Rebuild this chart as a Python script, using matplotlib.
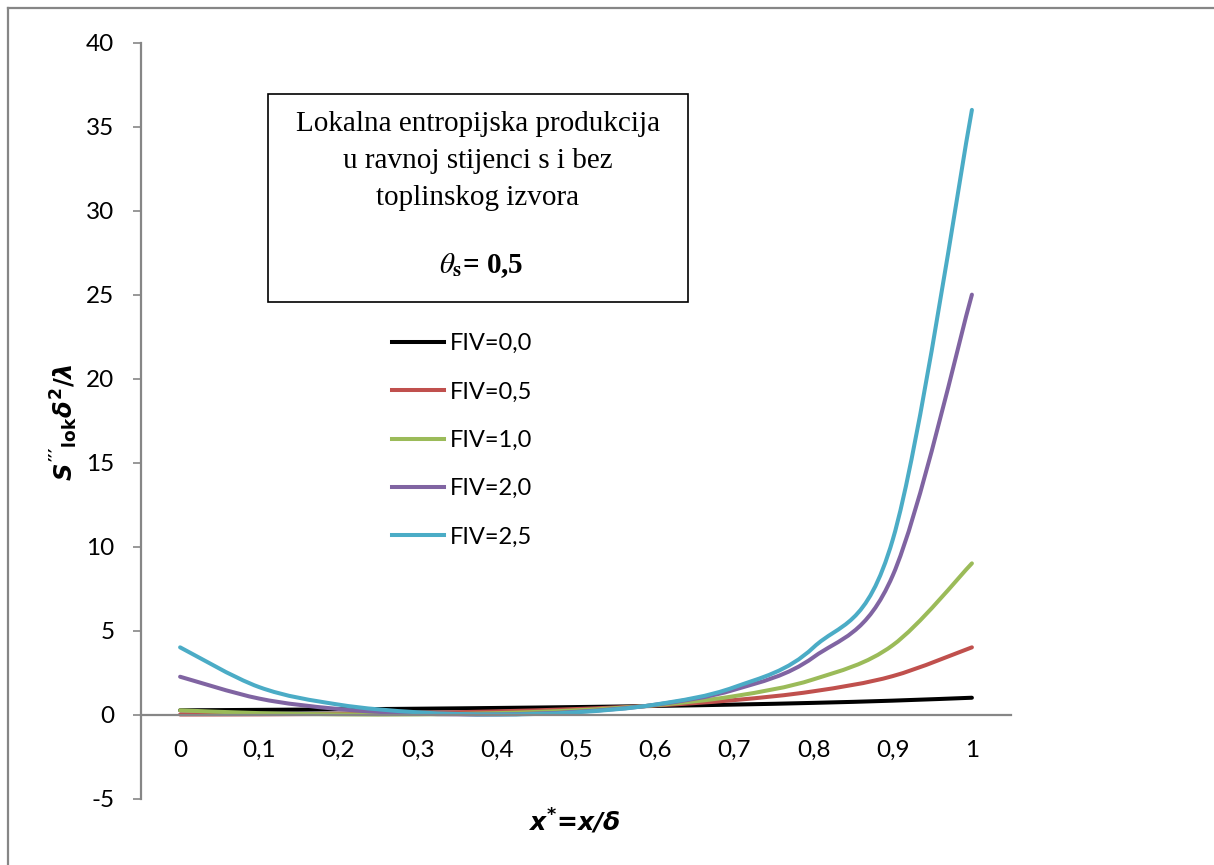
import numpy as np
import matplotlib
matplotlib.use("Agg")
import matplotlib.pyplot as plt
from matplotlib.path import Path
from matplotlib.patches import PathPatch, Rectangle
from matplotlib.lines import Line2D

# ---------------- data ----------------
x_labels = ["0", "0,1", "0,2", "0,3", "0,4", "0,5", "0,6", "0,7", "0,8", "0,9", "1"]

fiv_00 = [0.25, 0.277, 0.309, 0.346, 0.391, 0.444, 0.510, 0.592, 0.694, 0.826, 1.0]
fiv_05 = [0.0, 0.010, 0.042, 0.099, 0.189, 0.327, 0.535, 0.860, 1.384, 2.288, 4.0]
fiv_10 = [0.25, 0.083, 0.009, 0.009, 0.083, 0.25, 0.555, 1.095, 2.095, 4.126, 9.0]
fiv_20 = [2.25, 0.948, 0.329, 0.056, 0.006, 0.16, 0.582, 1.476, 3.415, 8.276, 25.0]
fiv_25 = [4.0, 1.630, 0.592, 0.132, 0.0, 0.132, 0.592, 1.630, 4.0, 10.406, 36.0]

series = [fiv_00, fiv_05, fiv_10, fiv_20, fiv_25]
names = ["FIV=0,0", "FIV=0,5", "FIV=1,0", "FIV=2,0", "FIV=2,5"]
colors = ["#000000", "#C0504D", "#9BBB59", "#8064A2", "#4BACC6"]

W, H = 1214, 865
GRAY = "#868686"

plt.rcParams["axes.unicode_minus"] = False
plt.rcParams["mathtext.fontset"] = "custom"
plt.rcParams["mathtext.rm"] = "DejaVu Sans:bold"
plt.rcParams["mathtext.it"] = "DejaVu Sans:italic:bold"
plt.rcParams["mathtext.bf"] = "DejaVu Sans:bold"


def smooth_path(xs, ys):
    # excel-like smoothed line (catmull-rom as cubic bezier)
    pts = np.column_stack([xs, ys]).astype(float)
    n = len(pts)
    verts = [pts[0]]
    codes = [Path.MOVETO]
    for i in range(n - 1):
        p0 = pts[max(i - 1, 0)]
        p1 = pts[i]
        p2 = pts[i + 1]
        p3 = pts[min(i + 2, n - 1)]
        verts += [p1 + (p2 - p0) / 6, p2 - (p3 - p1) / 6, p2]
        codes += [Path.CURVE4] * 3
    return Path(verts, codes)


def fx(px):
    return px / W


def fy(py):
    return 1 - py / H


fig = plt.figure(figsize=(W / 100, H / 100), dpi=100)
ax = fig.add_axes([fx(140.5), fy(798.5), (1011.5 - 140.5) / W, (798.5 - 42.7) / H])

xs = np.arange(len(x_labels))
lw = 2.9
for ys, c in zip(series, colors):
    ax.add_patch(PathPatch(smooth_path(xs, ys), fill=False, edgecolor=c, lw=lw,
                           capstyle="round", joinstyle="round"))

ax.set_xlim(-0.5, len(x_labels) - 0.5)
ax.set_ylim(-5, 40)
ax.set_yticks(range(-5, 41, 5))
ax.set_xticks(xs)
ax.set_xticklabels(x_labels)

for s in ["top", "right"]:
    ax.spines[s].set_visible(False)
ax.spines["left"].set_color(GRAY)
ax.spines["left"].set_linewidth(1.6)
ax.spines["bottom"].set_position(("data", 0))
ax.spines["bottom"].set_color(GRAY)
ax.spines["bottom"].set_linewidth(1.6)

ax.tick_params(axis="y", direction="out", length=5.8, width=1.2, color=GRAY, pad=13,
               labelsize=17.5, labelfontfamily="Lato")
ax.tick_params(axis="x", length=0, pad=18, labelsize=17.5, labelfontfamily="Lato")

# axis titles
fig.text(fx(64), fy(422), r"$S'''_{\mathrm{lok}}\delta^{2}/\lambda$", rotation=90,
         ha="center", va="center", fontsize=17.5, family="DejaVu Sans",
         weight="bold", style="italic")
fig.text(fx(574), fy(822), r"$x^{*}$=x/δ", ha="center", va="center", fontsize=18,
         family="DejaVu Sans", weight="bold", style="italic")

# legend
handles = [Line2D([], [], color=c, lw=lw) for c in colors]
fig.legend(handles, names, loc="upper left", bbox_to_anchor=(fx(392), fy(333)),
           frameon=False, prop={"family": "Lato", "size": 17}, borderpad=0,
           handlelength=2.2, handletextpad=0.25, labelspacing=1.16,
           borderaxespad=0)

# text box
fig.add_artist(Rectangle((fx(267.5), fy(301.5)), (688 - 267.5) / W, (301.5 - 94) / H,
                         transform=fig.transFigure, fill=False, ec="black", lw=1.2))
box_lines = ["Lokalna entropijska produkcija", "u ravnoj stijenci s i bez",
             "toplinskog izvora"]
for i, t in enumerate(box_lines):
    fig.text(fx(478), fy(124 + 37 * i), t, ha="center", va="center",
             family="Liberation Serif", fontsize=21)
fig.text(fx(481), fy(266), r"$\theta_{\mathbf{s}}$= 0,5", ha="center",
         va="center", fontsize=21, family="Liberation Serif", weight="bold",
         math_fontfamily="stix")

# outer chart border
fig.add_artist(Line2D([fx(8), 1], [fy(8), fy(8)], transform=fig.transFigure,
                      color=GRAY, lw=1.6))
fig.add_artist(Line2D([fx(8), fx(8)], [fy(8), 0], transform=fig.transFigure,
                      color=GRAY, lw=1.6))

fig.savefig("out.png", dpi=100)
